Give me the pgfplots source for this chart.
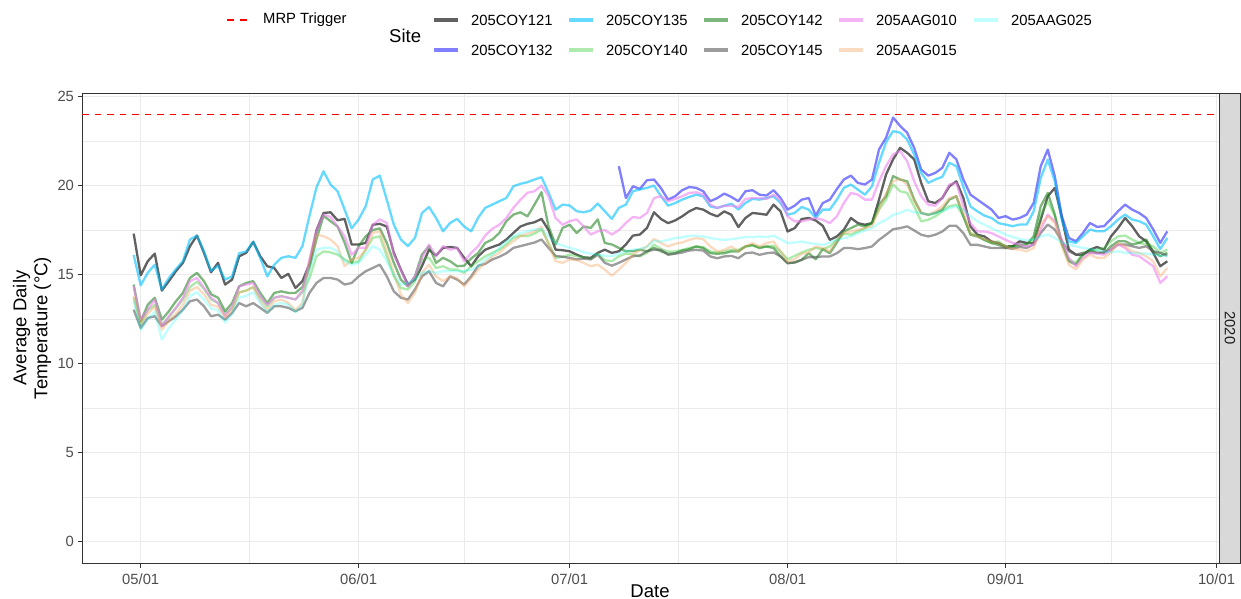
\documentclass[border=0pt]{standalone}
\usepackage{fontspec}
\setmainfont{Liberation Sans}
\usepackage{pgfplots}
\usepackage{pgfplotstable}
\pgfplotsset{compat=1.18}

\definecolor{gray92}{HTML}{EBEBEB}
\definecolor{gray85}{HTML}{D9D9D9}
\definecolor{gray30}{HTML}{4D4D4D}
\definecolor{gray20}{HTML}{333333}
\definecolor{gray10}{HTML}{1A1A1A}
\definecolor{c121}{HTML}{000000}
\definecolor{c132}{HTML}{0000FF}
\definecolor{c135}{HTML}{00BFFF}
\definecolor{c140}{HTML}{32CD32}
\definecolor{c142}{HTML}{1A801A}
\definecolor{c145}{HTML}{5A5A5A}
\definecolor{c010}{HTML}{EE82EE}
\definecolor{c015}{HTML}{F4A460}
\definecolor{c025}{HTML}{00FFFF}

\tikzset{
  s121/.style={c121, draw opacity=0.62},
  s132/.style={c132, draw opacity=0.5},
  s135/.style={c135, draw opacity=0.6},
  s140/.style={c140, draw opacity=0.4},
  s142/.style={c142, draw opacity=0.57},
  s145/.style={c145, draw opacity=0.6},
  s010/.style={c010, draw opacity=0.6},
  s015/.style={c015, draw opacity=0.4},
  s025/.style={c025, draw opacity=0.25},
  series/.style={line width=2.3pt, line join=round},
}

% Average daily temperature per site; d = days since 05/01/2020
\pgfplotstableread{
d s121 s132 s135 s140 s142 s145 a010 a015 a025
-1 17.30 nan 16.10 13.70 14.44 13.03 14.34 13.80 13.50
0 14.96 nan 14.40 12.20 12.38 12.00 12.47 12.30 11.90
1 15.75 nan 15.10 13.00 13.30 12.56 13.03 12.80 12.50
2 16.18 nan 15.56 13.30 13.70 12.66 13.60 13.20 12.90
3 14.10 nan 14.16 12.20 12.47 12.10 12.10 11.90 11.35
4 14.63 nan 14.80 12.60 12.94 12.38 12.66 12.40 12.00
5 15.19 nan 15.30 13.10 13.50 12.66 13.13 12.80 12.50
6 15.66 nan 15.75 13.60 13.97 13.03 13.70 13.30 13.00
7 16.59 nan 16.97 14.30 14.81 13.50 14.63 14.10 13.80
8 17.19 nan 17.19 14.60 15.10 13.60 14.81 14.30 14.00
9 16.22 nan 16.30 14.20 14.63 13.22 14.25 13.90 13.60
10 15.13 nan 15.20 13.60 13.90 12.66 13.70 13.30 13.10
11 15.66 nan 15.50 13.40 13.70 12.75 13.40 13.20 13.00
12 14.44 nan 14.72 12.80 12.94 12.47 12.66 12.60 12.30
13 14.72 nan 14.90 13.10 13.40 12.85 13.22 13.00 12.80
14 16.03 nan 16.20 14.00 14.34 13.40 14.34 14.00 13.70
15 16.22 nan 16.30 14.10 14.53 13.22 14.44 14.10 13.80
16 16.84 nan 16.84 14.30 14.63 13.40 14.53 14.30 14.00
17 16.03 nan 15.94 13.70 13.97 13.13 13.78 13.50 13.40
18 15.47 nan 14.90 13.20 13.40 12.85 13.30 13.00 12.90
19 15.37 nan 15.56 13.70 13.97 13.22 13.70 13.50 13.30
20 14.81 nan 15.94 13.80 14.06 13.22 13.78 13.60 13.40
21 15.04 nan 16.03 13.70 13.97 13.13 13.70 13.40 13.30
22 14.25 nan 15.94 13.60 13.97 12.94 13.60 13.00 12.90
23 14.63 nan 16.60 14.00 14.30 13.13 14.10 13.40 13.30
24 15.60 nan 18.30 14.80 15.40 13.97 15.85 15.66 15.30
25 17.50 nan 19.90 16.03 17.00 14.53 17.50 17.25 16.40
26 18.46 nan 20.80 16.30 18.30 14.81 18.37 17.15 16.50
27 18.50 nan 20.06 16.25 18.00 14.81 18.24 16.97 16.50
28 18.05 nan 19.68 16.12 17.70 14.72 17.70 16.60 16.30
29 18.13 nan 18.65 15.85 16.80 14.44 17.15 15.47 15.75
30 16.69 nan 17.60 15.66 15.66 14.53 16.12 15.85 15.56
31 16.69 nan 18.10 15.75 16.60 14.90 16.50 15.94 15.66
32 16.78 nan 18.84 16.40 17.15 15.19 16.50 16.40 16.12
33 17.80 nan 20.34 17.06 17.50 15.37 17.80 17.34 16.60
34 17.85 nan 20.56 17.15 17.60 15.56 18.10 17.43 16.40
35 17.70 nan 19.20 16.03 16.78 14.90 17.90 16.30 15.75
36 16.22 nan 17.80 14.90 15.66 14.06 16.12 15.10 15.00
37 15.28 nan 16.97 14.25 14.72 13.70 15.28 13.88 14.44
38 14.44 nan 16.60 14.16 14.34 13.60 14.34 13.40 14.53
39 14.72 nan 17.06 14.63 14.90 14.16 14.90 13.97 14.72
40 15.47 nan 18.46 15.85 16.12 14.90 15.94 15.10 15.10
41 16.40 nan 18.80 15.94 16.60 15.19 16.69 15.56 15.19
42 16.07 nan 18.18 15.37 15.66 14.53 16.03 14.90 15.10
43 16.50 nan 17.43 15.47 15.94 14.34 16.60 14.63 15.19
44 16.55 nan 17.90 15.28 15.75 14.90 16.40 14.90 15.19
45 16.50 nan 18.13 15.28 15.47 14.72 16.50 14.80 15.19
46 15.94 nan 17.70 15.10 15.50 14.44 15.75 14.34 15.19
47 15.47 nan 17.43 15.47 15.90 14.90 16.22 14.80 15.28
48 16.03 nan 18.20 15.75 16.22 15.50 16.60 15.28 15.47
49 16.40 nan 18.75 16.03 16.78 15.60 17.20 15.66 15.85
50 16.55 nan 18.93 16.22 16.97 15.85 17.57 16.03 16.12
51 16.69 nan 19.12 16.40 17.34 16.00 17.80 16.22 16.50
52 16.97 nan 19.30 16.69 18.00 16.20 18.18 16.59 16.87
53 17.34 nan 19.96 17.06 18.37 16.50 18.75 16.87 17.15
54 17.70 nan 20.10 17.19 18.50 16.60 19.20 17.15 17.34
55 17.85 nan 20.19 17.15 18.27 16.70 19.60 17.30 17.43
56 17.94 nan 20.34 17.30 18.93 16.80 19.68 17.43 17.53
57 18.13 nan 20.47 17.53 19.63 16.97 20.00 17.68 17.57
58 17.50 nan 19.60 16.78 17.70 16.50 19.40 16.69 17.15
59 16.40 nan 18.65 15.94 16.69 16.05 18.18 15.75 16.78
60 16.37 nan 18.93 16.00 17.62 16.00 17.80 15.66 16.63
61 16.31 nan 18.88 16.12 17.80 15.94 18.00 15.85 16.50
62 16.12 nan 18.56 16.03 17.34 15.85 18.10 15.81 16.40
63 15.97 nan 18.50 15.97 17.70 15.90 17.70 15.66 16.25
64 15.94 nan 18.60 15.88 17.62 15.85 17.25 15.47 16.18
65 16.22 nan 18.99 16.18 18.10 16.12 17.43 15.56 16.12
66 16.40 nan 18.56 15.81 16.78 15.66 17.50 15.28 16.07
67 16.22 nan 18.13 15.75 16.69 15.50 17.25 14.94 16.03
68 16.31 21.09 18.75 16.03 16.50 15.66 17.50 15.28 16.18
69 16.69 19.30 18.93 16.18 16.31 15.85 17.90 15.66 16.31
70 17.19 19.96 19.68 16.12 16.31 16.03 18.24 16.12 16.40
71 17.25 19.81 19.78 16.03 16.40 16.07 18.18 16.37 16.44
72 17.62 20.30 19.87 16.22 16.31 16.31 18.46 16.59 16.55
73 18.50 20.34 20.00 16.69 16.50 16.40 19.30 17.00 16.90
74 18.12 19.85 19.40 16.43 16.30 16.39 19.40 16.77 16.86
75 17.89 19.21 18.87 16.30 16.17 16.11 19.12 16.58 16.95
76 18.04 19.40 19.02 16.30 16.20 16.17 19.25 16.73 17.05
77 18.27 19.74 19.21 16.39 16.35 16.24 19.40 16.80 17.09
78 18.55 19.92 19.36 16.49 16.43 16.35 19.59 16.95 17.18
79 18.74 19.87 19.49 16.58 16.58 16.39 19.62 17.05 17.18
80 18.65 19.68 19.40 16.54 16.49 16.35 19.49 16.99 17.14
81 18.42 19.12 18.83 16.30 16.20 16.02 18.93 16.58 17.05
82 18.27 19.30 18.74 16.24 16.17 15.92 18.74 16.30 16.99
83 18.55 19.55 18.87 16.30 16.20 16.02 18.87 16.39 16.95
84 18.36 19.36 18.98 16.39 16.30 16.05 18.87 16.58 16.99
85 17.67 19.12 18.65 16.39 16.30 15.92 18.80 16.30 17.05
86 18.18 19.68 19.02 16.58 16.58 16.20 19.25 16.58 17.11
87 18.46 19.74 19.25 16.62 16.67 16.24 19.30 16.77 17.11
88 18.42 19.49 19.21 16.54 16.49 16.11 19.30 16.58 17.14
89 18.36 19.44 19.30 16.58 16.58 16.20 19.25 16.77 17.11
90 18.93 19.74 19.40 16.62 16.49 16.24 19.49 16.86 17.18
91 18.55 19.30 19.02 16.30 16.02 16.02 19.17 16.30 16.99
92 17.42 18.65 18.36 15.86 15.64 15.64 18.27 15.73 16.77
93 17.61 18.87 18.46 16.05 15.68 15.68 17.99 15.86 16.80
94 18.12 19.21 18.80 16.24 15.83 15.83 17.99 16.17 16.86
95 18.18 19.30 18.65 16.39 16.20 15.98 18.08 16.24 16.77
96 18.04 18.31 18.18 16.49 15.86 15.98 18.18 16.58 16.73
97 17.74 19.02 18.65 16.43 16.43 16.02 18.08 16.49 16.67
98 16.95 19.21 18.65 16.58 16.20 16.02 17.89 16.30 16.80
99 17.14 19.80 19.21 16.95 16.80 16.20 18.27 16.95 16.95
100 17.52 20.34 19.87 17.30 17.42 16.49 19.02 17.33 17.05
101 18.18 20.56 20.06 17.24 17.61 16.49 19.59 17.42 17.14
102 17.89 20.15 19.77 17.42 17.80 16.43 19.49 17.52 17.33
103 17.80 20.06 19.49 17.61 17.71 16.49 19.21 17.61 17.48
104 17.89 20.34 19.96 17.89 17.89 16.58 19.21 17.71 17.61
105 19.21 22.03 21.28 18.65 18.93 16.95 20.24 18.65 17.89
106 20.62 22.69 22.44 19.21 19.40 17.24 21.09 19.59 18.08
107 21.47 23.82 23.06 20.06 20.53 17.55 21.75 20.24 18.36
108 22.12 23.35 22.97 19.68 20.34 17.61 21.94 20.38 18.46
109 21.84 22.97 22.59 19.59 20.24 17.71 21.37 20.06 18.65
110 21.47 22.12 21.75 18.83 19.21 17.48 20.24 19.12 18.50
111 20.15 20.90 20.71 17.99 18.46 17.24 19.40 18.46 18.46
112 19.12 20.56 20.15 18.08 18.36 17.14 18.93 18.36 18.36
113 19.02 20.71 20.34 18.27 18.46 17.24 18.87 18.55 18.46
114 19.30 21.00 20.49 18.55 18.65 17.42 19.30 18.83 18.55
115 19.96 21.84 21.28 18.83 19.21 17.74 20.06 19.30 18.74
116 20.24 21.47 21.09 18.93 19.40 17.74 20.15 19.40 18.83
117 19.30 20.34 19.92 18.27 18.27 17.33 18.83 18.46 18.65
118 17.71 19.49 18.83 17.33 17.24 16.67 17.89 17.33 18.27
119 17.24 19.21 18.55 17.18 17.14 16.67 17.42 17.14 17.99
120 17.14 18.93 18.31 16.95 16.95 16.58 17.42 16.99 17.80
121 16.86 18.65 18.18 16.80 16.77 16.49 17.33 16.86 17.61
122 16.77 18.18 17.89 16.86 16.67 16.49 17.14 16.77 17.42
123 16.58 18.28 17.81 16.58 16.50 16.50 16.95 16.58 17.25
124 16.59 18.09 17.72 16.55 16.59 16.45 16.78 16.44 17.12
125 16.87 18.18 17.81 16.63 16.69 16.55 16.69 16.40 17.00
126 16.78 18.37 17.81 16.69 16.69 16.50 16.59 16.31 16.93
127 16.78 19.03 18.56 16.97 17.15 16.69 16.69 16.50 16.97
128 18.09 21.09 20.43 18.37 18.84 17.34 17.53 17.81 17.15
129 19.40 22.02 21.46 19.12 19.59 17.81 18.37 18.28 17.25
130 19.87 20.52 20.24 18.28 18.37 17.53 18.00 17.90 17.06
131 18.18 18.28 18.09 16.69 16.78 16.87 16.97 16.59 16.82
132 16.40 17.06 16.87 15.84 15.75 16.31 15.94 15.56 16.69
133 16.12 16.87 16.78 15.66 15.56 16.12 15.47 15.28 16.59
134 16.12 17.34 17.15 16.22 16.12 16.22 15.94 15.84 16.50
135 16.40 17.90 17.53 16.31 16.40 16.25 16.22 16.12 16.44
136 16.55 17.68 17.43 16.40 16.22 16.22 16.18 15.94 16.37
137 16.40 17.72 17.43 16.50 16.22 16.25 16.12 15.94 16.31
138 17.15 18.13 17.72 16.87 16.59 16.40 16.40 16.25 16.25
139 17.62 18.56 18.09 17.15 16.87 16.69 16.69 16.78 16.31
140 18.18 18.93 18.37 17.19 16.87 16.69 16.50 16.59 16.22
141 17.72 18.65 18.09 16.97 16.69 16.59 16.12 16.31 16.22
142 17.15 18.46 18.00 16.78 16.78 16.50 16.03 16.22 16.18
143 16.87 18.18 17.81 16.69 16.97 16.59 15.75 16.03 16.18
144 16.22 17.53 17.15 16.59 16.31 16.31 15.47 15.75 16.12
145 15.47 16.78 16.44 16.22 16.03 16.22 14.53 14.91 16.07
146 15.75 17.43 17.06 16.40 16.22 16.07 14.91 15.37 16.03
}\temps

\newcommand\ticksize{\fontsize{14.8}{17}\selectfont}
\newcommand\titlesize{\fontsize{18.5}{21}\selectfont}

\begin{document}
\begin{tikzpicture}
\path[use as bounding box] (0pt,0pt) rectangle (1241pt,-599pt);

\begin{axis}[
  at={(82pt,-563pt)}, anchor=south west,
  width=1137pt, height=470pt, scale only axis,
  xmin=-8.35, xmax=153.35, ymin=-1.2, ymax=25.2,
  xtick={0,31,61,92,123,153},
  xticklabels={05/01,06/01,07/01,08/01,09/01,10/01},
  minor xtick={15.5,46,76.5,107.5,138},
  ytick={0,5,10,15,20,25},
  minor ytick={2.5,7.5,12.5,17.5,22.5},
  grid=both,
  major grid style={draw=gray92, line width=1.1pt},
  minor grid style={draw=gray92, line width=0.55pt},
  axis line style={draw=gray20, line width=0.9pt},
  tick style={draw=gray20, line width=0.9pt},
  major tick length=4.5pt, minor tick length=0pt,
  tick align=outside, xtick pos=left, ytick pos=left,
  tick label style={font=\ticksize, text=gray30},
  xticklabel style={yshift=-3pt},
  /pgf/number format/assume math mode=true,
]
% trigger threshold
\addplot[draw=red, line width=1.3pt, dash pattern=on 6.5pt off 6pt] coordinates {(-8.35,24) (153.35,24)};
\addplot[series, s121] table[x=d, y=s121] {\temps};
\addplot[series, s132] table[x=d, y=s132] {\temps};
\addplot[series, s135] table[x=d, y=s135] {\temps};
\addplot[series, s140] table[x=d, y=s140] {\temps};
\addplot[series, s142] table[x=d, y=s142] {\temps};
\addplot[series, s145] table[x=d, y=s145] {\temps};
\addplot[series, s010] table[x=d, y=a010] {\temps};
\addplot[series, s015] table[x=d, y=a015] {\temps};
\addplot[series, s025] table[x=d, y=a025] {\temps};
\end{axis}

\begin{scope}[x=1pt, y=1pt]
% facet strip
\draw[fill=gray85, draw=gray20, line width=0.9pt] (1219.5,-93) rectangle (1240.5,-563);
\node[rotate=-90, font=\ticksize, text=gray10] at (1230,-328) {2020};

% axis titles
\node[font=\titlesize] at (650,-591) {Date};
\node[font=\titlesize, rotate=90, align=center] at (32,-328) {Average Daily\\Temperature (°C)};

% legend
\draw[red, line width=1.3pt, dash pattern=on 6.5pt off 6.5pt] (227,-20) -- (248,-20);
\node[anchor=west, font=\ticksize, inner sep=0pt] at (263,-20) {MRP Trigger};
\node[anchor=west, font=\titlesize, inner sep=0pt] at (389,-36) {Site};
\foreach \st/\lab/\cx/\ry in {
  s121/205COY121/434/20, s132/205COY132/434/50,
  s135/205COY135/569/20, s140/205COY140/569/50,
  s142/205COY142/704/20, s145/205COY145/704/50,
  s010/205AAG010/839/20, s015/205AAG015/839/50,
  s025/205AAG025/974/20}{
  \draw[series, \st, line width=3.2pt] (\cx,-\ry) -- ({\cx+24},-\ry);
  \node[anchor=west, font=\ticksize, inner sep=0pt] at ({\cx+37},-\ry) {\lab};
}
\end{scope}
\end{tikzpicture}
\end{document}
